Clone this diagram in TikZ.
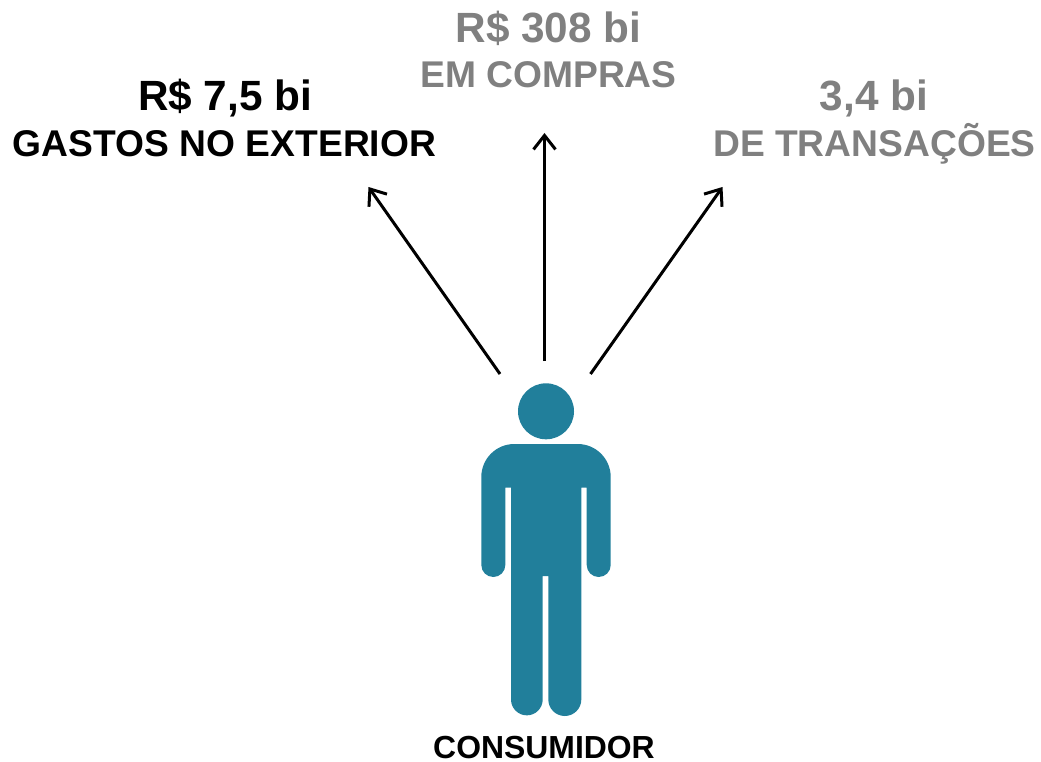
\documentclass[tikz,border=0pt]{standalone}
\usepackage{fontspec}
\setmainfont{Liberation Sans}
\usetikzlibrary{arrows.meta}
\definecolor{figteal}{HTML}{217F9B}
\definecolor{labgray}{HTML}{808080}
\tikzset{
  x=1pt,y=-1pt,
  bigtext/.style={font=\fontsize{42.3}{42.3}\bfseries\selectfont,inner sep=0pt,anchor=base},
  subtext/.style={font=\fontsize{37.2}{37.2}\bfseries\selectfont,inner sep=0pt,anchor=base},
  captext/.style={font=\fontsize{31.9}{31.9}\bfseries\selectfont,inner sep=0pt,anchor=base},
  conn/.style={draw=black,line width=3pt,-{Straight Barb[length=14pt,width=22pt,line width=3pt]}},
  figshape/.style={fill=figteal,draw=none}
}
\begin{document}
\begin{tikzpicture}
\useasboundingbox (0,0) rectangle (1041,762);
% figure
\fill[figshape] (546,411.3) circle[radius=28];
\fill[figshape] (481.3,565) -- (481.3,477)
  arc[start angle=180,end angle=90,x radius=33,y radius=-33] -- (577.7,444)
  arc[start angle=90,end angle=0,x radius=33,y radius=-33] -- (610.7,565)
  arc[start angle=0,end angle=-180,x radius=12,y radius=-12] -- (586.7,487.7) -- (581.3,487.7) -- (581.3,699.5)
  arc[start angle=0,end angle=-180,x radius=16.5,y radius=-16.5] -- (548.3,576) -- (542.7,576) -- (542.7,699.5)
  arc[start angle=0,end angle=-180,x radius=15.85,y radius=-15.85] -- (511,487.7) -- (505.3,487.7) -- (505.3,565)
  arc[start angle=0,end angle=-180,x radius=12,y radius=-12] -- cycle;
% labels
\node[bigtext] (n1) at (225,111) {R\$ 7,5 bi};
\node[subtext] (n2) at (224.5,157) {GASTOS NO EXTERIOR};
\node[bigtext,text=labgray] (n3) at (548.5,43) {R\$ 308 bi};
\node[subtext,text=labgray] (n4) at (548.5,88) {EM COMPRAS};
\node[bigtext,text=labgray] (n5) at (874,111) {3,4 bi};
\node[subtext,text=labgray] (n6) at (874.5,157) {DE TRANSAÇÕES};
\node[captext] (n7) at (544,758) {CONSUMIDOR};
% connectors
\coordinate (s1) at (500,374);
\coordinate (e1) at (368.5,187);
\coordinate (s2) at (544.5,361);
\coordinate (e2) at (544.5,133);
\coordinate (s3) at (590.5,374);
\coordinate (e3) at (722.5,187);
\draw[conn] (s1) -- (e1);
\draw[conn] (s2) -- (e2);
\draw[conn] (s3) -- (e3);
\end{tikzpicture}
\end{document}
